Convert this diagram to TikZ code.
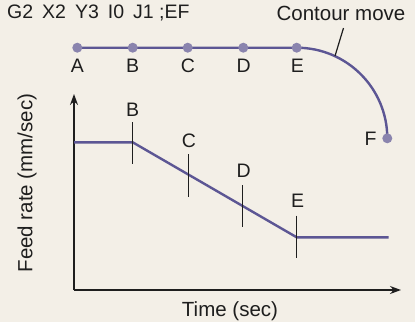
\documentclass[tikz,border=0pt]{standalone}
\usepackage{fontspec}
\setmainfont{Liberation Sans}
\usetikzlibrary{arrows.meta}
\definecolor{bgc}{HTML}{F3EFE7}
\definecolor{pathc}{HTML}{5C5694}
\definecolor{dotc}{HTML}{8A84AE}
\definecolor{inkc}{HTML}{1E1E1E}
\begin{document}
\begin{tikzpicture}[x=1pt,y=-1pt,
  lbl/.style={inner sep=0pt,anchor=base,text=inkc,font=\fontsize{19.5}{22}\selectfont},
  axlbl/.style={inner sep=0pt,anchor=base,text=inkc,font=\fontsize{20.5}{24}\selectfont},
  pathline/.style={draw=pathc,line width=2.4pt},
  dotnode/.style={circle,fill=dotc,inner sep=0pt,minimum size=10pt},
  axis/.style={draw=inkc,line width=1.3pt,-{Stealth[length=11pt,width=8pt]}},
  tick/.style={draw=inkc,line width=1.3pt}]
\fill[bgc] (0,0) rectangle (415,322);
\useasboundingbox (0,0) rectangle (415,322);
% command line
\node[lbl,anchor=base west] (cmd) at (7,18.3) {G2\hspace{9pt}X2\hspace{9pt}Y3\hspace{9pt}I0\hspace{9pt}J1 ;EF};
% top path
\coordinate (Ap) at (77.3,47.7);
\coordinate (Ep) at (296.7,47.7);
\draw[pathline] (Ap) -- (Ep) arc[start angle=-90,end angle=0,radius=90.6] coordinate (Fp);
\node[dotnode] (A) at (Ap) {};
\node[dotnode] (B) at (132.7,47.7) {};
\node[dotnode] (C) at (187.7,47.7) {};
\node[dotnode] (D) at (243.3,47.7) {};
\node[dotnode] (E) at (Ep) {};
\node[dotnode] (F) at (Fp) {};
\node[lbl] (lA) at (77.3,72.7) {A};
\node[lbl] (lB) at (132.7,72.7) {B};
\node[lbl] (lC) at (188,72.7) {C};
\node[lbl] (lD) at (243.7,72.7) {D};
\node[lbl] (lE) at (297.5,72.7) {E};
\node[lbl] (lF) at (370.7,145) {F};
\node[axlbl] (contour) at (341,20.7) {Contour move};
\coordinate (lead1) at (343.5,28);
\coordinate (lead2) at (335,56);
\draw[tick,line width=1.2pt] (lead1) -- (lead2);
% graph
\coordinate (O) at (74,290);
\coordinate (Ytop) at (74,94);
\coordinate (Xend) at (401,290);
\draw[axis] (O) -- (Ytop);
\draw[axis] (O) -- (Xend);
\coordinate (g0) at (74,142.3);
\coordinate (gB) at (132.7,142.3);
\coordinate (gE) at (296.7,237.3);
\coordinate (g1) at (388.5,237.3);
\draw[pathline,line join=miter] (g0) -- (gB) -- (gE) -- (g1);
\coordinate (tB1) at (132.6,122.3); \coordinate (tB2) at (132.6,164.3);
\coordinate (tC1) at (188.5,154.3); \coordinate (tC2) at (188.5,196.7);
\coordinate (tD1) at (242.5,185); \coordinate (tD2) at (242.5,226.7);
\coordinate (tE1) at (296.5,215.7); \coordinate (tE2) at (296.5,258.3);
\draw[tick] (tB1) -- (tB2);
\draw[tick] (tC1) -- (tC2);
\draw[tick] (tD1) -- (tD2);
\draw[tick] (tE1) -- (tE2);
\node[lbl] (gLB) at (132.7,116) {B};
\node[lbl] (gLC) at (189,147.3) {C};
\node[lbl] (gLD) at (243.7,177.3) {D};
\node[lbl] (gLE) at (297.7,207.3) {E};
\node[axlbl] (xl) at (230,316) {Time (sec)};
\node[axlbl,rotate=90] (yl) at (32.3,183) {Feed rate (mm/sec)};
\end{tikzpicture}
\end{document}
